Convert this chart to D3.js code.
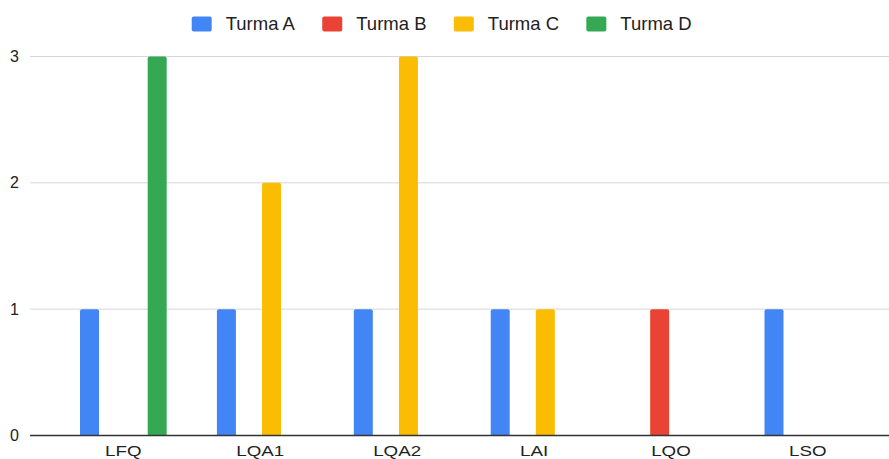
<!DOCTYPE html>
<html>
<head>
<meta charset="utf-8">
<script src="https://cdn.jsdelivr.net/npm/d3@7"></script>
<style>
  html, body { margin: 0; padding: 0; background: #fff; }
  svg { display: block; font-family: Arial, "Liberation Sans", sans-serif; }
</style>
</head>
<body>
<svg id="chart" width="889" height="459"></svg>
<script>
// Categories (x axis) and series
const categories = ["LFQ", "LQA1", "LQA2", "LAI", "LQO", "LSO"];
const seriesNames = ["Turma A", "Turma B", "Turma C", "Turma D"];
const seriesColors = ["#4285F4", "#EA4335", "#FBBC04", "#34A853"];

// Values per series, aligned with categories
const turmaA = [1, 1, 1, 1, 0, 1];
const turmaB = [0, 0, 0, 0, 1, 0];
const turmaC = [0, 2, 3, 1, 0, 0];
const turmaD = [3, 0, 0, 0, 0, 0];

const yTicks = [0, 1, 2, 3];

const seriesValues = [turmaA, turmaB, turmaC, turmaD];
const rows = categories.map((c, i) => ({
  category: c,
  values: seriesNames.map((s, j) => ({ series: s, value: seriesValues[j][i], color: seriesColors[j] }))
}));

const svg = d3.select("#chart");
const plotLeft = 30, plotRight = 889;
const yTop = 56.5, yBottom = 435.5;

const x0 = d3.scaleBand().domain(categories).range([54.9, 876.3]);
const groupWidth = 90.24;
const x1 = d3.scaleBand().domain(seriesNames).range([0, groupWidth])
  .paddingInner(0.158).paddingOuter(0.079);
const y = d3.scaleLinear().domain([0, 3]).range([yBottom, yTop]);

// Gridlines
svg.append("g").selectAll("line").data(yTicks.filter(d => d !== 0)).join("line")
  .attr("x1", plotLeft).attr("x2", plotRight)
  .attr("y1", d => y(d)).attr("y2", d => y(d))
  .attr("stroke", "#d6d6d6").attr("stroke-width", 1);

// Y axis tick labels
const yAxis = d3.axisLeft(y).tickValues(yTicks).tickSize(0).tickPadding(0).tickFormat(d3.format("d"));
const yg = svg.append("g").attr("transform", `translate(19,0)`).call(yAxis);
yg.select(".domain").remove();
yg.selectAll("text").attr("font-size", 16).attr("fill", "#222")
  .attr("font-family", "Arial, 'Liberation Sans', sans-serif");

// Rounded-top bar path
function barPath(x, yv, w, h, r) {
  if (h <= 0) return "";
  r = Math.min(r, w / 2, h);
  return `M${x},${yv + h}V${yv + r}Q${x},${yv} ${x + r},${yv}H${x + w - r}Q${x + w},${yv} ${x + w},${yv + r}V${yv + h}Z`;
}

// Bars
const groups = svg.append("g").selectAll("g").data(rows).join("g")
  .attr("transform", d => `translate(${x0(d.category) + x0.bandwidth() / 2 - groupWidth / 2},0)`);
groups.selectAll("path").data(d => d.values.filter(v => v.value > 0)).join("path")
  .attr("d", d => barPath(x1(d.series), y(d.value), x1.bandwidth(), y(0) - y(d.value), 2))
  .attr("fill", d => d.color);

// Baseline
svg.append("line").attr("x1", plotLeft).attr("x2", plotRight)
  .attr("y1", y(0)).attr("y2", y(0)).attr("stroke", "#333").attr("stroke-width", 1.4);

// X axis labels (slightly widened glyphs)
const xAxis = d3.axisBottom(x0).tickSize(0).tickPadding(0);
const xg = svg.append("g").attr("transform", `translate(0,${yBottom})`).call(xAxis);
xg.select(".domain").remove();
xg.selectAll(".tick").each(function(d) {
  const cx = x0(d) + x0.bandwidth() / 2;
  const t = d3.select(this).attr("transform", "translate(0,0)");
  t.select("text")
    .attr("font-size", 15).attr("fill", "#222")
    .attr("font-family", "Arial, 'Liberation Sans', sans-serif")
    .attr("dy", null).attr("y", 21)
    .attr("transform", "scale(1.25,1)")
    .attr("x", cx / 1.25);
});

// Legend
const legend = svg.append("g").attr("transform", "translate(0,24)");
let lx = 191.7;
seriesNames.forEach((s, i) => {
  const g = legend.append("g");
  g.append("rect").attr("x", lx).attr("y", -7.5).attr("width", 20).attr("height", 15)
    .attr("rx", 2).attr("fill", seriesColors[i]);
  const t = g.append("text").attr("x", lx + 34).attr("y", 0).attr("dy", "0.35em")
    .attr("font-size", 18.5).attr("fill", "#222").text(s);
  const tw = t.node().getComputedTextLength();
  lx = lx + 34 + tw + 27.3;
});
</script>
</body>
</html>
